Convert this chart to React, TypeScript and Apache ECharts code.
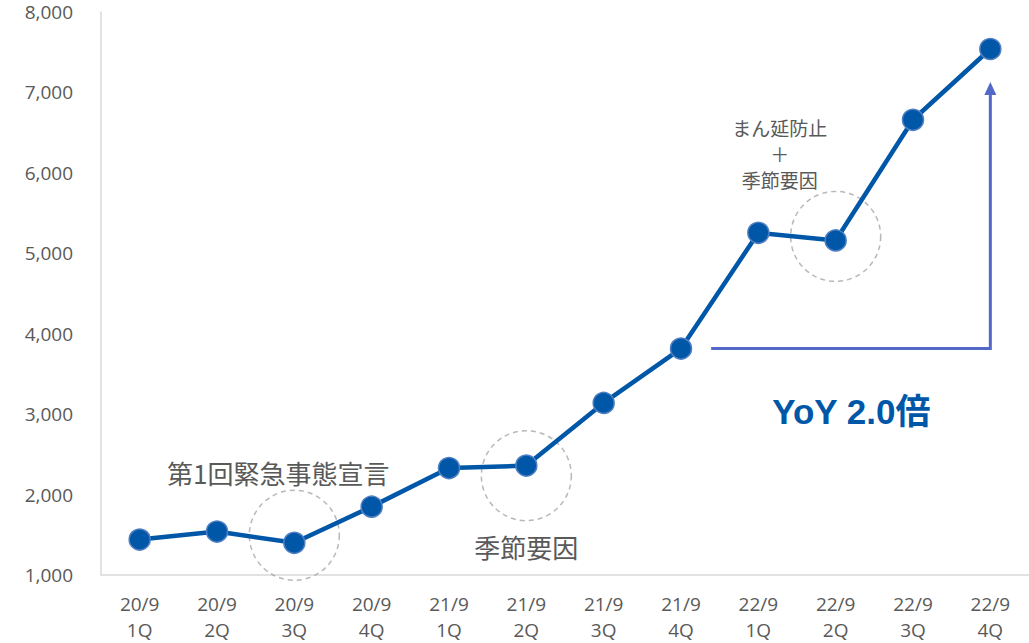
import React, { useEffect, useRef } from "react";
import * as echarts from "echarts";

const categories = [
  "20/9\n1Q", "20/9\n2Q", "20/9\n3Q", "20/9\n4Q",
  "21/9\n1Q", "21/9\n2Q", "21/9\n3Q", "21/9\n4Q",
  "22/9\n1Q", "22/9\n2Q", "22/9\n3Q", "22/9\n4Q",
];
const values = [1440, 1540, 1400, 1850, 2330, 2360, 3140, 3815, 5255, 5160, 6660, 7540];
const highlightCircles: [number, number][] = [[2, 1494], [5, 2235], [9, 5210]];
const yTicks = { min: 1000, max: 8000, interval: 1000 };

const BLUE = "#0057a8";
const GRAY_TEXT = "#595959";
const ARROW = "#5468c8";
const JP = "'Noto Sans CJK JP', 'Noto Sans', sans-serif";
const NUM = "'Open Sans', 'Noto Sans', sans-serif";
const LATIN_BOLD = "'Liberation Sans', Arial, 'Noto Sans CJK JP', sans-serif";

export default function App() {
  const ref = useRef<HTMLDivElement>(null);
  useEffect(() => {
    if (!ref.current) return;
    const chart = echarts.init(ref.current, undefined, { renderer: "svg" });
    chart.setOption({
      animation: false,
      backgroundColor: "#ffffff",
      grid: { left: 101, top: 12, width: 929, height: 565, containLabel: false },
      xAxis: {
        type: "category",
        data: categories,
        boundaryGap: true,
        axisLine: { lineStyle: { color: "#d9d9d9", width: 1.5 } },
        axisTick: { show: false },
        axisLabel: { color: GRAY_TEXT, fontSize: 19, fontFamily: NUM, lineHeight: 26, margin: 16 },
      },
      yAxis: {
        type: "value",
        min: yTicks.min,
        max: yTicks.max,
        interval: yTicks.interval,
        axisLine: { show: true, lineStyle: { color: "#d9d9d9", width: 1.5 } },
        axisTick: { show: false },
        splitLine: { show: false },
        axisLabel: {
          color: GRAY_TEXT, fontSize: 19, fontFamily: NUM, margin: 28,
          formatter: (v: number) => v.toLocaleString("en-US"),
        },
      },
      series: [
        {
          type: "scatter",
          data: highlightCircles,
          symbol: "circle",
          symbolSize: 90,
          z: 1,
          itemStyle: { color: "rgba(0,0,0,0)", borderColor: "#a6a6a6", borderWidth: 1.5, borderType: [5, 4] },
          silent: true,
        },
        {
          type: "line",
          data: values,
          z: 3,
          lineStyle: { color: BLUE, width: 4.5 },
          symbol: "circle",
          symbolSize: 21,
          itemStyle: { color: BLUE, borderColor: "#4f7fc2", borderWidth: 1.5 },
        },
      ],
    });

    const px = (x: number, y: number) => chart.convertToPixel({ gridIndex: 0 }, [x, y]) as number[];
    const p7 = px(7, values[7]);
    const p8 = px(8, values[7]);
    const p11 = px(11, values[7]);
    const top = px(11, 7130);
    const startX = p7[0] + (p8[0] - p7[0]) * 0.39;
    const c2 = px(2, 2272);
    const c5 = px(5, 1360);
    const c9 = px(9, 6240);
    const yoy = px(10, 3030);
    const yoyX = (p8[0] + p11[0]) / 2 - 23;

    chart.setOption({
      graphic: [
        {
          type: "polyline",
          z: 10,
          shape: { points: [[startX, p7[1]], [p11[0], p7[1]], [p11[0], top[1] + 10]] },
          style: { stroke: ARROW, lineWidth: 3, fill: null },
        },
        {
          type: "polygon",
          z: 10,
          shape: { points: [[p11[0], top[1]], [p11[0] - 6, top[1] + 13], [p11[0] + 6, top[1] + 13]] },
          style: { fill: ARROW },
        },
        {
          type: "text", z: 10, x: c2[0] - 16, y: c2[1],
          style: { text: "第1回緊急事態宣言", font: `26px ${JP}`, fill: GRAY_TEXT, align: "center", verticalAlign: "middle" },
        },
        {
          type: "text", z: 10, x: c5[0], y: c5[1],
          style: { text: "季節要因", font: `26px ${JP}`, fill: GRAY_TEXT, align: "center", verticalAlign: "middle" },
        },
        {
          type: "text", z: 10, x: c9[0] - 56, y: c9[1],
          style: { text: "まん延防止\n＋\n季節要因", font: `19px ${JP}`, lineHeight: 26, fill: GRAY_TEXT, align: "center", verticalAlign: "middle" },
        },
        {
          type: "text", z: 10, x: yoyX, y: yoy[1],
          style: { text: "YoY 2.0倍", font: `bold 35px ${LATIN_BOLD}`, fill: BLUE, align: "center", verticalAlign: "middle" },
        },
      ],
    });
    return () => chart.dispose();
  }, []);
  return (
    <div
      ref={ref}
      style={{ position: "fixed", left: 0, top: 0, width: 1029, height: 643, background: "#fff" }}
    />
  );
}
